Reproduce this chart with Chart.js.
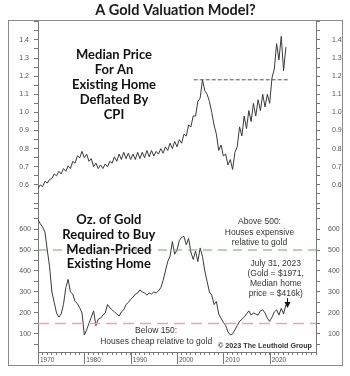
<!DOCTYPE html>
<html>
<head>
<meta charset="utf-8">
<script src="https://cdn.jsdelivr.net/npm/chart.js@4.4.0/dist/chart.umd.min.js"></script>
<style>
  html, body { margin: 0; padding: 0; background: #fff; }
  #wrap { width: 350px; height: 376px; }
</style>
</head>
<body>
<div id="wrap"><canvas id="goldChart" width="350" height="376"></canvas></div>
<script>
// both series in half-year steps, starting Jan 1970
const startYear = 1970;

// median existing home price deflated by CPI
const homePriceReal = [
    0.58, 0.60, 0.59, 0.62, 0.61, 0.63, 0.635, 0.66, 0.65, 0.675,   // 1970-74
    0.66, 0.69, 0.675, 0.705, 0.69, 0.73, 0.72, 0.76, 0.75, 0.785,  // 1975-79
    0.75, 0.77, 0.73, 0.745, 0.70, 0.72, 0.69, 0.71, 0.69, 0.715,   // 1980-84
    0.70, 0.73, 0.72, 0.755, 0.73, 0.77, 0.74, 0.78, 0.745, 0.775,  // 1985-89
    0.74, 0.77, 0.74, 0.78, 0.745, 0.78, 0.75, 0.79, 0.755, 0.79,   // 1990-94
    0.76, 0.785, 0.77, 0.80, 0.775, 0.81, 0.79, 0.83, 0.80, 0.84,   // 1995-99
    0.81, 0.85, 0.83, 0.88, 0.87, 0.93, 0.92, 0.98, 0.98, 1.06,     // 2000-04
    1.08, 1.18, 1.12, 1.10, 1.06, 1.00, 0.93, 0.88, 0.79, 0.82,     // 2005-09
    0.76, 0.77, 0.71, 0.74, 0.685, 0.78, 0.81, 0.92, 0.87, 0.98,    // 2010-14
    0.91, 1.01, 0.95, 1.05, 0.98, 1.07, 1.01, 1.10, 1.03, 1.10,     // 2015-19
    1.05, 1.19, 1.24, 1.38, 1.29, 1.42, 1.23, 1.36                  // 2020-23
];

// ounces of gold needed to buy the median-priced existing home
const goldOunces = [
    645, 625, 610, 585, 500, 420, 300, 250, 200, 180,   // 1970-74
    195, 240, 320, 360, 300, 290, 255, 245, 225, 200,   // 1975-79
    95, 120, 150, 180, 210, 140, 170, 175, 190, 200,    // 1980-84
    240, 225, 215, 205, 195, 185, 205, 215, 240, 250,   // 1985-89
    265, 275, 290, 295, 310, 300, 295, 285, 295, 290,   // 1990-94
    300, 295, 305, 320, 355, 400, 445, 470, 540, 480,   // 1995-99
    500, 545, 560, 565, 525, 555, 490, 455, 495, 445,   // 2000-04
    510, 470, 400, 350, 300, 285, 240, 255, 195, 175,   // 2005-09
    155, 140, 110, 95, 100, 120, 140, 160, 170, 180,    // 2010-14
    195, 210, 190, 200, 195, 190, 210, 215, 200, 175,   // 2015-19
    160, 180, 205, 215, 190, 222, 195, 238              // 2020-23
];

const homePeakLevel = 1.18;
const homePeakSpan = [2003.6, 2023.9];
const expensiveLevel = 500;
const cheapLevel = 150;

const topTickLabels = [0.6, 0.7, 0.8, 0.9, 1.0, 1.1, 1.2, 1.3, 1.4];
const bottomTickLabels = [100, 200, 300, 400, 500, 600];
const decadeLabels = [1970, 1980, 1990, 2000, 2010, 2020];

const axisColor = '#777';
const tickColor = '#555';
const lineColor = '#3a3a3a';

Chart.defaults.font.family = "'Liberation Sans', Arial, sans-serif";

function toPoints(values) {
    return values.map((v, i) => ({ x: startYear + i / 2, y: v }));
}

function topLabel(v) {
    const r = Math.round(v * 10) / 10;
    if (Math.abs(v - r) > 1e-6 || !topTickLabels.includes(r)) return '';
    return r.toFixed(1);
}

function bottomLabel(v) {
    return bottomTickLabels.includes(Math.round(v)) ? String(Math.round(v)) : '';
}

// text blocks placed in data coordinates
const notes = [
    { lines: ['Median Price', 'For An', 'Existing Home', 'Deflated By', 'CPI'],
      x: 1986.4, y: 1.317, axis: 'yTop', font: "bold 13px Lato", color: '#111', step: 15 },
    { lines: ['Oz. of Gold', 'Required to Buy', 'Median-Priced', 'Existing Home'],
      x: 1985.3, y: 643, axis: 'yBot', font: "bold 13px Lato", color: '#111', step: 14.7 },
    { lines: ['Above 500:', 'Houses expensive', 'relative to gold'],
      x: 2017.8, y: 635, axis: 'yBot', font: "8.5px 'Liberation Sans'", color: '#333', step: 10.5 },
    { lines: ['July 31, 2023', '(Gold = $1971,', 'Median home', 'price = $416k)'],
      x: 2021.3, y: 437, axis: 'yBot', font: "8.5px 'Liberation Sans'", color: '#333', step: 10.2 },
    { lines: ['Below 150:', 'Houses cheap relative to gold'],
      x: 1995.5, y: 114, axis: 'yBot', font: "8.5px 'Liberation Sans'", color: '#333', step: 10.7 },
    { lines: ['\u00a9 2023 The Leuthold Group'],
      x: 2019, y: 43, axis: 'yBot', font: "bold 7.2px 'Liberation Sans'", color: '#333', step: 10 }
];

const framePlugin = {
    id: 'frame',
    beforeDraw(chart) {
        const ctx = chart.ctx;
        ctx.save();
        ctx.fillStyle = '#fff';
        ctx.fillRect(0, 0, chart.width, chart.height);
        ctx.restore();
    },
    afterDraw(chart) {
        const { ctx, chartArea, scales } = chart;
        ctx.save();
        ctx.strokeStyle = '#8a8a8a';
        ctx.lineWidth = 1;
        ctx.strokeRect(8.5, chartArea.top + 0.5, 334, 345);
        // long decade ticks under the time axis
        ctx.strokeStyle = axisColor;
        ctx.beginPath();
        decadeLabels.forEach(d => {
            const px = Math.round(scales.x.getPixelForValue(d)) + 0.5;
            ctx.moveTo(px, chartArea.bottom);
            ctx.lineTo(px, chartArea.bottom + 12);
        });
        ctx.stroke();
        ctx.restore();
    }
};

const notesPlugin = {
    id: 'notes',
    afterDatasetsDraw(chart) {
        const { ctx, scales } = chart;
        ctx.save();
        ctx.textAlign = 'center';
        ctx.textBaseline = 'middle';
        notes.forEach(n => {
            const px = scales.x.getPixelForValue(n.x);
            const py = scales[n.axis].getPixelForValue(n.y);
            ctx.font = n.font;
            ctx.fillStyle = n.color;
            n.lines.forEach((t, i) => ctx.fillText(t, px, py + i * n.step));
        });
        // arrow pointing at the latest reading
        const ax = Math.round(scales.x.getPixelForValue(2023.75)) + 0.5;
        const top = scales.yBot.getPixelForValue(271);
        const tip = scales.yBot.getPixelForValue(224);
        ctx.strokeStyle = '#111';
        ctx.fillStyle = '#111';
        ctx.lineWidth = 1;
        ctx.beginPath();
        ctx.moveTo(ax, top);
        ctx.lineTo(ax, tip - 4);
        ctx.stroke();
        ctx.beginPath();
        ctx.moveTo(ax - 3, tip - 6);
        ctx.lineTo(ax + 3, tip - 6);
        ctx.lineTo(ax, tip);
        ctx.closePath();
        ctx.fill();
        ctx.restore();
    }
};

// weight only decides which axis of a stack sits on top
function yAxis(position, stack, weight, order, min, max, step, padding, width, labelFn) {
    return {
        type: 'linear',
        position: position,
        stack: stack,
        stackWeight: weight,
        weight: order,
        min: min,
        max: max,
        afterFit: s => { s.width = width; },
        border: { color: axisColor },
        grid: { drawOnChartArea: false, tickLength: 4, color: axisColor },
        ticks: {
            stepSize: step,
            includeBounds: false,
            autoSkip: false,
            padding: padding,
            color: tickColor,
            font: { size: 7 },
            callback: labelFn
        }
    };
}

new Chart(document.getElementById('goldChart'), {
    type: 'line',
    data: {
        datasets: [
            {
                label: 'Median Price Deflated By CPI',
                data: toPoints(homePriceReal),
                yAxisID: 'yTop',
                borderColor: lineColor,
                borderWidth: 1,
                pointRadius: 0
            },
            {
                label: 'Prior peak',
                data: [{ x: homePeakSpan[0], y: homePeakLevel }, { x: homePeakSpan[1], y: homePeakLevel }],
                yAxisID: 'yTop',
                borderColor: '#555',
                borderWidth: 1,
                borderDash: [4, 2],
                pointRadius: 0
            },
            {
                label: 'Above 500',
                data: [{ x: 1970, y: expensiveLevel }, { x: 2030, y: expensiveLevel }],
                yAxisID: 'yBot',
                borderColor: '#6aaa62',
                borderWidth: 1,
                borderDash: [9, 6],
                pointRadius: 0
            },
            {
                label: 'Below 150',
                data: [{ x: 1970, y: cheapLevel }, { x: 2030, y: cheapLevel }],
                yAxisID: 'yBot',
                borderColor: '#f2a3a3',
                borderWidth: 1.5,
                borderDash: [11, 6],
                pointRadius: 0
            },
            {
                label: 'Oz. of Gold',
                data: toPoints(goldOunces),
                yAxisID: 'yBot',
                borderColor: lineColor,
                borderWidth: 1,
                pointRadius: 0
            }
        ]
    },
    options: {
        responsive: false,
        animation: false,
        events: [],
        layout: { padding: { left: 8, right: 7, top: 0, bottom: 11 } },
        plugins: {
            legend: { display: false },
            tooltip: { enabled: false },
            title: {
                display: true,
                text: 'A Gold Valuation Model?',
                color: '#1a1a1a',
                font: { family: 'Lato', size: 14.5, weight: 'bold', lineHeight: 1 },
                padding: { top: 3, bottom: 2.5 }
            }
        },
        scales: {
            x: {
                type: 'linear',
                min: 1970,
                max: 2030,
                afterFit: s => { s.height = 13; },
                border: { color: axisColor },
                grid: { drawOnChartArea: false, tickLength: 3, color: axisColor },
                ticks: {
                    stepSize: 1,
                    autoSkip: false,
                    maxRotation: 0,
                    minRotation: 0,
                    align: 'start',
                    labelOffset: 2,
                    padding: 1,
                    color: tickColor,
                    font: { size: 6.5 },
                    callback: v => decadeLabels.includes(v) ? String(v) : ''
                }
            },
            yTop: yAxis('left', 'left', 183, 1, 0.5, 1.51, 0.05, 5, 30, topLabel),
            yBot: yAxis('left', 'left', 149, 0, 14, 724, 50, 3, 30, bottomLabel),
            yTopR: yAxis('right', 'right', 183, 0, 0.5, 1.51, 0.05, 12, 27, topLabel),
            yBotR: yAxis('right', 'right', 149, 0, 14, 724, 50, 8, 27, bottomLabel)
        }
    },
    plugins: [framePlugin, notesPlugin]
});
</script>
</body>
</html>
